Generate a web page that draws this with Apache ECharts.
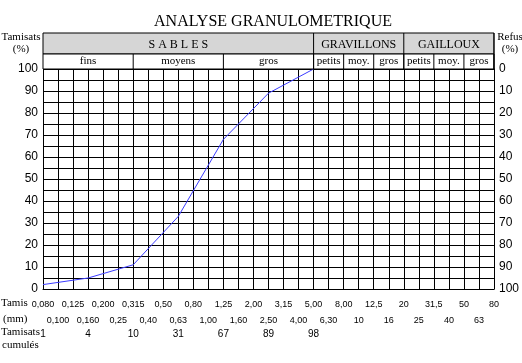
<!DOCTYPE html>
<html>
<head>
<meta charset="utf-8">
<script src="https://cdn.jsdelivr.net/npm/echarts@6/dist/echarts.min.js"></script>
<style>
html,body{margin:0;padding:0;background:#fff;}
#c{width:522px;height:363px;}
</style>
</head>
<body>
<div id="c"></div>
<script>
// Sieve sizes (mm), Renard series
const sieves = ['0,080','0,100','0,125','0,160','0,200','0,25','0,315','0,40','0,50','0,63','0,80','1,00','1,25','1,60','2,00','2,50','3,15','4,00','5,00','6,30','8,00','10','12,5','16','20','25','31,5','40','50','63','80'];
// Cumulative passing row (text)
const cumulSieves = ['0,080','0,160','0,315','0,63','1,25','2,50','5,00'];
const cumulValues = [1, 4, 10, 31, 67, 89, 98];
// Curve as drawn
const curveSieves = ['0,080','0,160','0,315','0,63','1,25','2,50','5,00'];
const curveValues = [2, 5, 11, 33, 68, 89, 100];
// Y tick labels
const leftTicks = [0,10,20,30,40,50,60,70,80,90,100];
// Header classes
const mainClasses = [['S A B L E S','0,080','5,00'],['GRAVILLONS','5,00','20'],['GAILLOUX','20','80']];
const subClasses = [['fins','0,080','0,315'],['moyens','0,315','1,25'],['gros','1,25','5,00'],['petits','5,00','8,00'],['moy.','8,00','12,5'],['gros','12,5','20'],['petits','20','31,5'],['moy.','31,5','50'],['gros','50','80']];

const SERIF = '"Liberation Serif","Times New Roman",serif';
const SANS = '"Liberation Sans",Arial,sans-serif';
const cumulMap = {};
cumulSieves.forEach((s,i)=>{cumulMap[s]=cumulValues[i];});

const chart = echarts.init(document.getElementById('c'), null, {renderer:'canvas'});
const GRID = {left:43, right:27, top:69, bottom:74};
const blk = {color:'#000', width:1};

chart.setOption({
  animation:false,
  backgroundColor:'#fff',
  title:{text:'ANALYSE GRANULOMETRIQUE', left:'center', left:268, textAlign:'center', top:9,
    textStyle:{fontFamily:SERIF, fontWeight:'normal', fontSize:16, color:'#000'}},
  grid:GRID,
  xAxis:[{
    type:'category', data:sieves, boundaryGap:false, position:'bottom',
    axisLine:{show:true, lineStyle:blk}, axisTick:{show:false},
    splitLine:{show:true, lineStyle:blk},
    axisLabel:{interval:0, hideOverlap:false, margin:8, fontFamily:SANS, fontSize:9, color:'#000', lineHeight:16,
      formatter:(v,i)=> i%2===0 ? v : '\n'+v}
  },{
    type:'category', data:sieves, boundaryGap:false, position:'bottom',
    axisLine:{show:false}, axisTick:{show:false}, splitLine:{show:false},
    axisLabel:{interval:0, hideOverlap:false, margin:40, fontFamily:SANS, fontSize:10, color:'#000',
      formatter:(v)=> cumulMap[v]!==undefined ? String(cumulMap[v]) : ''}
  }],
  yAxis:[{
    type:'value', min:0, max:100, interval:5, position:'left',
    axisLine:{show:true, lineStyle:blk}, axisTick:{show:false},
    splitLine:{show:true, lineStyle:blk},
    axisLabel:{margin:5, fontFamily:SANS, fontSize:12, color:'#000',
      formatter:(v)=> leftTicks.indexOf(v)>=0 ? String(v) : ''}
  },{
    type:'value', min:0, max:100, interval:10, position:'right', inverse:true,
    axisLine:{show:true, lineStyle:blk}, axisTick:{show:false}, splitLine:{show:false},
    axisLabel:{margin:5, fontFamily:SANS, fontSize:12, color:'#000'}
  }],
  series:[{
    type:'line', xAxisIndex:0, yAxisIndex:0, symbol:'none',
    lineStyle:{color:'#3c3cff', width:1},
    data: curveSieves.map((s,i)=>[s, curveValues[i]])
  }]
});

// Header table built from axis positions
const xp = name => chart.convertToPixel({xAxisIndex:0}, name);
const yTop = chart.convertToPixel({yAxisIndex:0}, 100);
const bandTop = yTop - 36, bandBot = yTop - 15;
const xL = xp(sieves[0]), xR = xp(sieves[sieves.length-1]);
const g = [];
g.push({type:'rect', shape:{x:xL, y:bandTop, width:xR-xL, height:bandBot-bandTop}, style:{fill:'#d6d6d6', stroke:'#000', lineWidth:1}, z:10});
g.push({type:'rect', shape:{x:xL, y:bandBot, width:xR-xL, height:yTop-bandBot}, style:{fill:'#fff', stroke:'#000', lineWidth:1}, z:10});
mainClasses.forEach(([t,a,b])=>{
  const x1 = xp(a), x2 = xp(b);
  g.push({type:'line', shape:{x1:x2, y1:bandTop, x2:x2, y2:yTop}, style:{stroke:'#000', lineWidth:1}, z:11});
  g.push({type:'text', x:(x1+x2)/2, y:(bandTop+bandBot)/2+1, style:{text:t, fill:'#000', font:'12px '+SERIF, align:'center', verticalAlign:'middle'}, z:12});
});
subClasses.forEach(([t,a,b])=>{
  const x1 = xp(a), x2 = xp(b);
  g.push({type:'line', shape:{x1:x2, y1:bandBot, x2:x2, y2:yTop}, style:{stroke:'#000', lineWidth:1}, z:11});
  g.push({type:'text', x:(x1+x2)/2, y:(bandBot+yTop)/2, style:{text:t, fill:'#000', font:'11px '+SERIF, align:'center', verticalAlign:'middle'}, z:12});
});
// Side captions
const cap = (t,x,y,al)=>g.push({type:'text', x:x, y:y, style:{text:t, fill:'#000', font:'11px '+SERIF, align:al||'center', verticalAlign:'middle'}, z:12});
cap('Tamisats', 21, 37); cap('(%)', 21, 49);
cap('Refus', 510, 37); cap('(%)', 510, 49);
cap('Tamis', 1, 303, 'left'); cap('(mm)', 3, 319, 'left');
cap('Tamisats', 1, 332, 'left'); cap('cumulés', 2, 345, 'left');
chart.setOption({graphic:g});
</script>
</body>
</html>
